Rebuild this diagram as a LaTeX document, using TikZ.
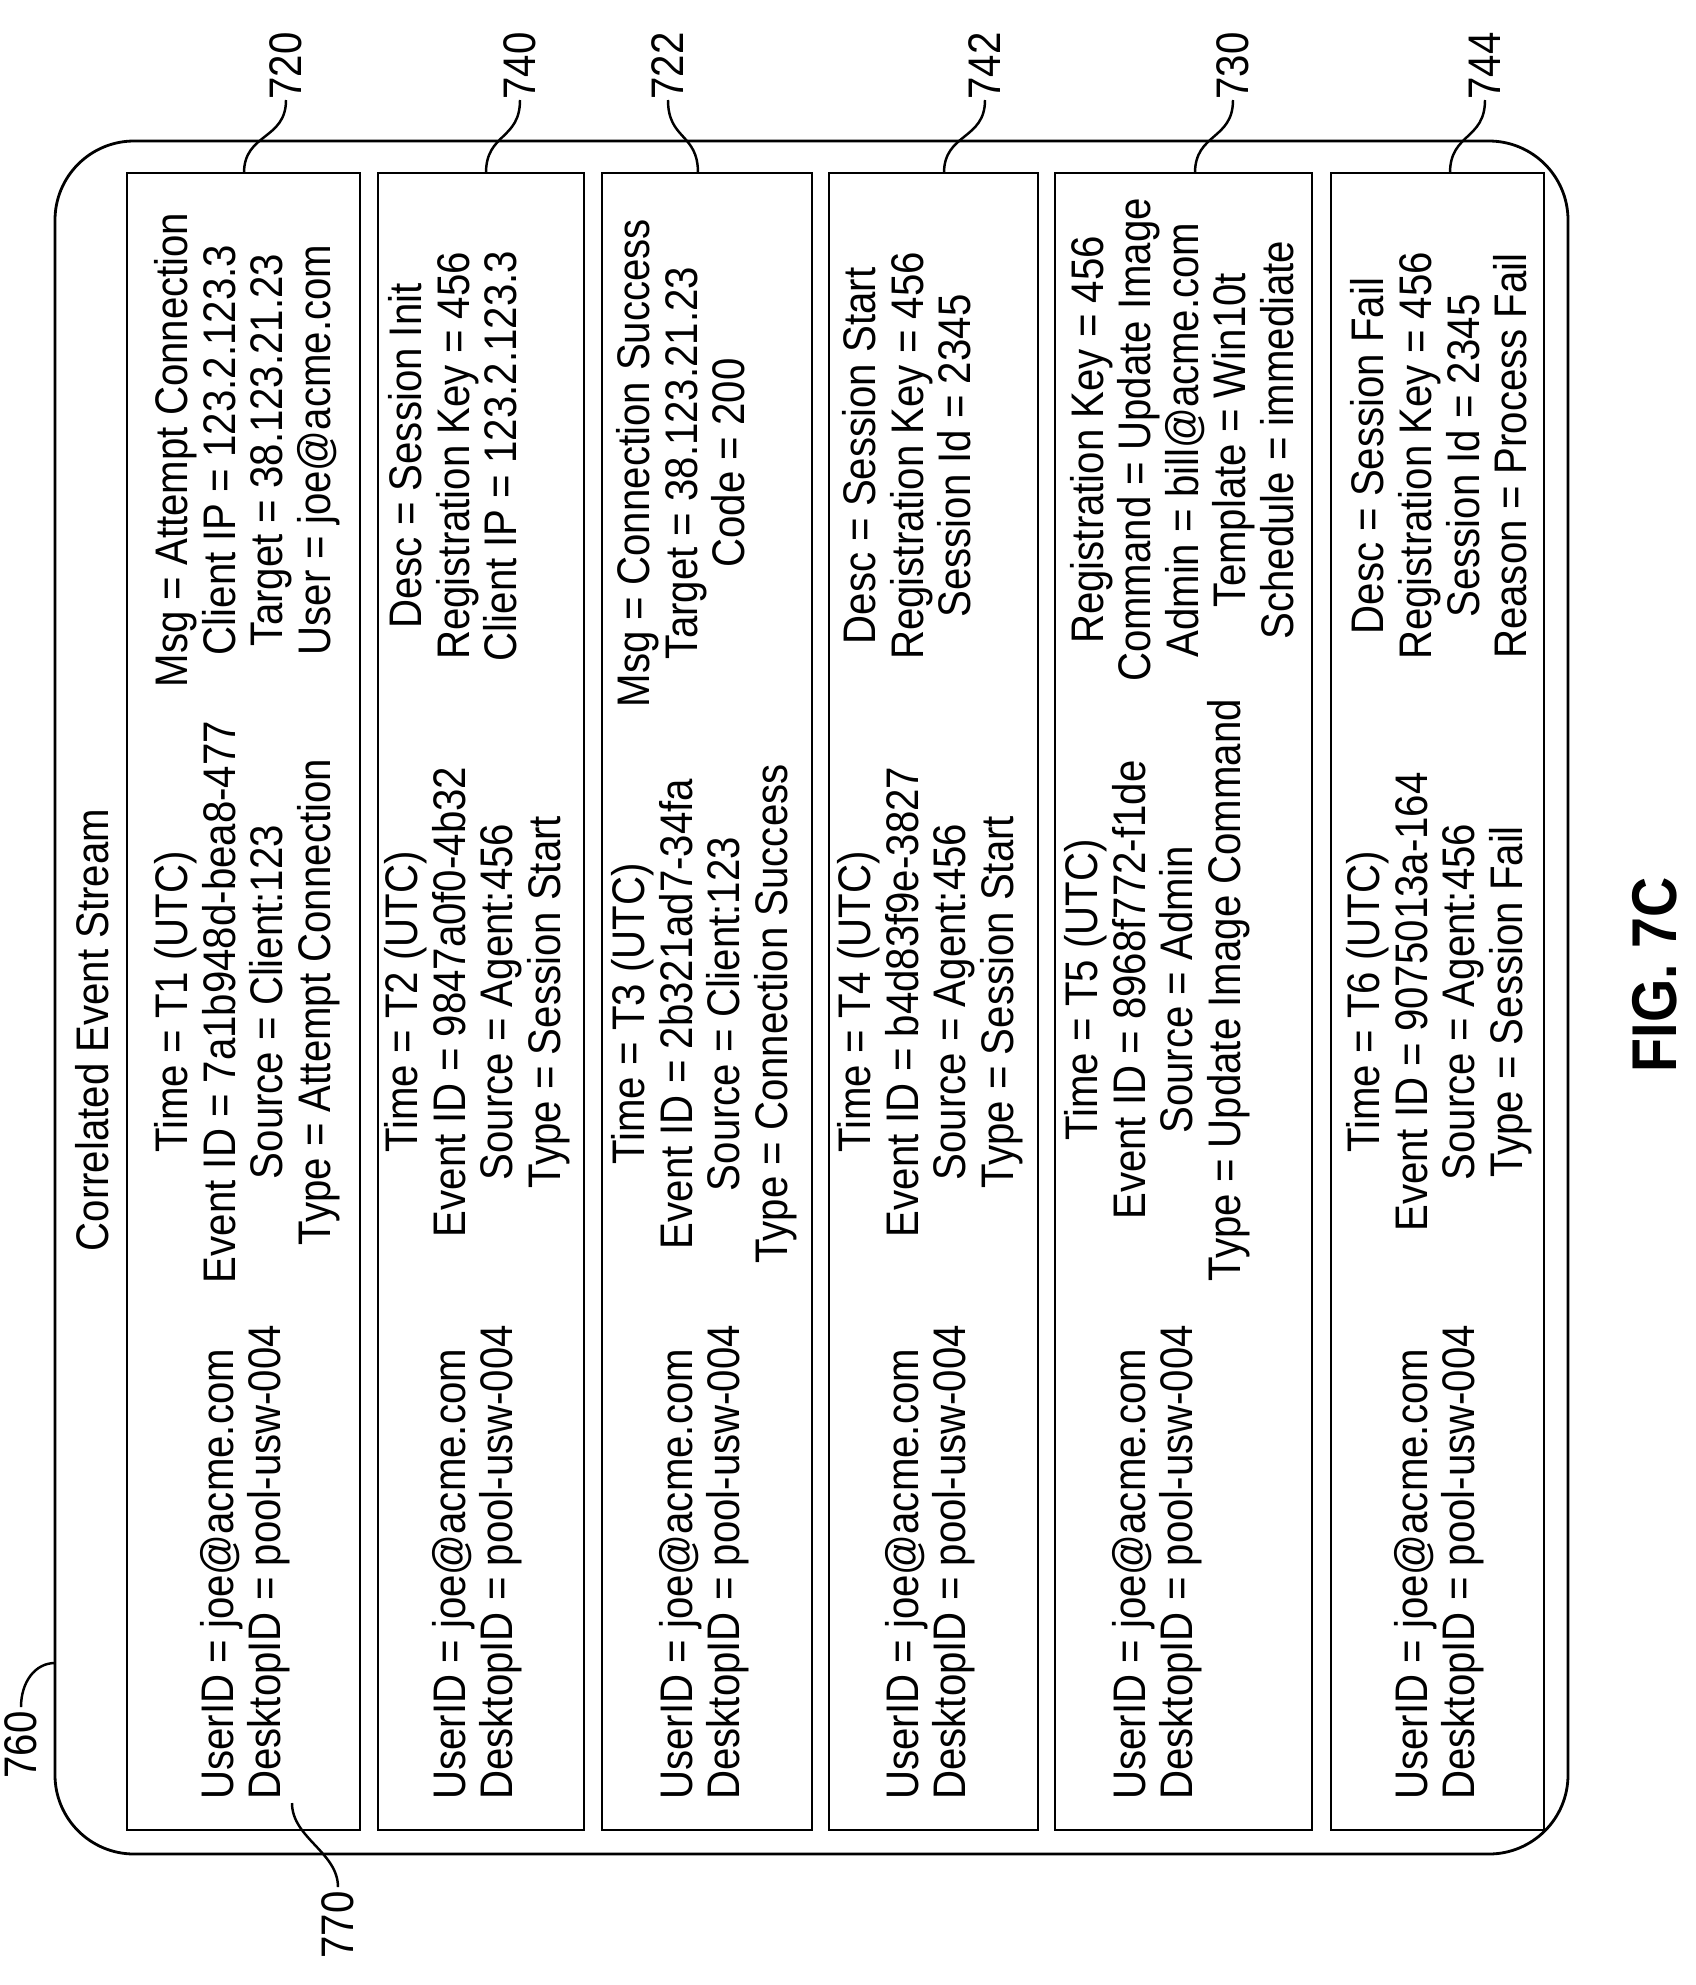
\documentclass[tikz,border=0pt]{standalone}
\usepackage{fontspec}
\setmainfont{Liberation Sans}[FakeStretch=0.88]
\tikzset{
  txt/.style={rotate=90, inner sep=0pt, font=\fontsize{26}{27.1}\selectfont},
  panel/.style={draw, line width=1.6pt},
  lead/.style={line width=1.4pt}
}
\begin{document}
\begin{tikzpicture}[x=0.02cm, y=-0.02cm]
            \useasboundingbox (0,0) rectangle (1696,1985);
            % Outer stream box
            \draw[line width=1.6pt, rounded corners=45] (55,141) rectangle (1568,1854);
            \node[txt] (title) at (92,1030) {Correlated Event Stream};
            % Event panels
            \draw[panel] ( 127,173) rectangle ( 360,1830);
            \draw[panel] ( 378,173) rectangle ( 584,1830);
            \draw[panel] ( 602,173) rectangle ( 812,1830);
            \draw[panel] ( 829,173) rectangle (1038,1830);
            \draw[panel] (1055,173) rectangle (1312,1830);
            \draw[panel] (1331,173) rectangle (1544,1830);
            % Panel 1
            \node[txt, anchor=west, align=left] (u1) at (245,1800) {UserID = joe@acme.com\\DesktopID = pool-usw-004};
            \node[txt, align=center] (e1) at (247,1002) {Time = T1 (UTC)\\Event ID = 7a1b948d-bea8-477\\Source = Client:123\\Type = Attempt Connection};
            \node[txt, align=center] (a1) at (247,450) {Msg = Attempt Connection\\Client IP = 123.2.123.3\\Target = 38.123.21.23\\User = joe@acme.com};
            % Panel 2
            \node[txt, anchor=west, align=left] (u2) at (477,1800) {UserID = joe@acme.com\\DesktopID = pool-usw-004};
            \node[txt, align=center] (e2) at (477,1002) {Time = T2 (UTC)\\Event ID = 9847a0f0-4b32\\Source = Agent:456\\Type = Session Start};
            \node[txt, align=center] (a2) at (453,456) {Desc = Session Init\\Registration Key = 456\\Client IP = 123.2.123.3};
            % Panel 3
            \node[txt, anchor=west, align=left] (u3) at (704,1800) {UserID = joe@acme.com\\DesktopID = pool-usw-004};
            \node[txt, align=center] (e3) at (704,1014) {Time = T3 (UTC)\\Event ID = 2b321ad7-34fa\\Source = Client:123\\Type = Connection Success};
            \node[txt, align=center] (a3) at (681,463) {Msg = Connection Success\\Target = 38.123.21.23\\Code = 200};
            % Panel 4
            \node[txt, anchor=west, align=left] (u4) at (930,1800) {UserID = joe@acme.com\\DesktopID = pool-usw-004};
            \node[txt, align=center] (e4) at (930,1002) {Time = T4 (UTC)\\Event ID = b4d83f9e-3827\\Source = Agent:456\\Type = Session Start};
            \node[txt, align=center] (a4) at (907,456) {Desc = Session Start\\Registration Key = 456\\Session Id = 2345};
            % Panel 5
            \node[txt, anchor=west, align=left] (u5) at (1157,1800) {UserID = joe@acme.com\\DesktopID = pool-usw-004};
            \node[txt, align=center] (e5) at (1157,990) {Time = T5 (UTC)\\Event ID = 8968f772-f1de\\Source = Admin\\Type = Update Image Command};
            \node[txt, align=center] (a5) at (1182,440) {Registration Key = 456\\Command = Update Image\\Admin = bill@acme.com\\Template = Win10t\\Schedule = immediate};
            % Panel 6
            \node[txt, anchor=west, align=left] (u6) at (1439,1800) {UserID = joe@acme.com\\DesktopID = pool-usw-004};
            \node[txt, align=center] (e6) at (1439,1002) {Time = T6 (UTC)\\Event ID = 9075013a-164\\Source = Agent:456\\Type = Session Fail};
            \node[txt, align=center] (a6) at (1439,456) {Desc = Session Fail\\Registration Key = 456\\Session Id = 2345\\Reason = Process Fail};
            % Reference labels
            \node[txt, anchor=west] (l720) at ( 286,100) {720};
            \node[txt, anchor=west] (l740) at ( 520,100) {740};
            \node[txt, anchor=west] (l722) at ( 668,100) {722};
            \node[txt, anchor=west] (l742) at ( 985,100) {742};
            \node[txt, anchor=west] (l730) at (1233,100) {730};
            \node[txt, anchor=west] (l744) at (1485,100) {744};
            \node[txt] (l760) at (21,1745) {760};
            \node[txt] (l770) at (338,1925) {770};
            \coordinate (t720) at ( 244,173);
            \coordinate (t740) at ( 486,173);
            \coordinate (t722) at ( 698,173);
            \coordinate (t742) at ( 944,173);
            \coordinate (t730) at (1195,173);
            \coordinate (t744) at (1450,173);
            \coordinate (t760) at (55,1663);
            \coordinate (t770) at (292,1803);
            % Leaders
            \draw[lead] (l720.west) .. controls +(0,40) and +(0,-40) .. (t720);
            \draw[lead] (l740.west) .. controls +(0,40) and +(0,-40) .. (t740);
            \draw[lead] (l722.west) .. controls +(0,40) and +(0,-40) .. (t722);
            \draw[lead] (l742.west) .. controls +(0,40) and +(0,-40) .. (t742);
            \draw[lead] (l730.west) .. controls +(0,40) and +(0,-40) .. (t730);
            \draw[lead] (l744.west) .. controls +(0,40) and +(0,-40) .. (t744);
            \draw[lead] (l760.east) ++(0,-4) .. controls +(0,-25) and +(-20,0) .. (t760);
            \draw[lead] (l770.east) ++(0,-4) .. controls +(0,-35) and +(0,35) .. (t770);
            % Figure caption
            \node[txt, font=\fontsize{36}{40}\bfseries] (fig) at (1655,975) {FIG. 7C};
\end{tikzpicture}
\end{document}
